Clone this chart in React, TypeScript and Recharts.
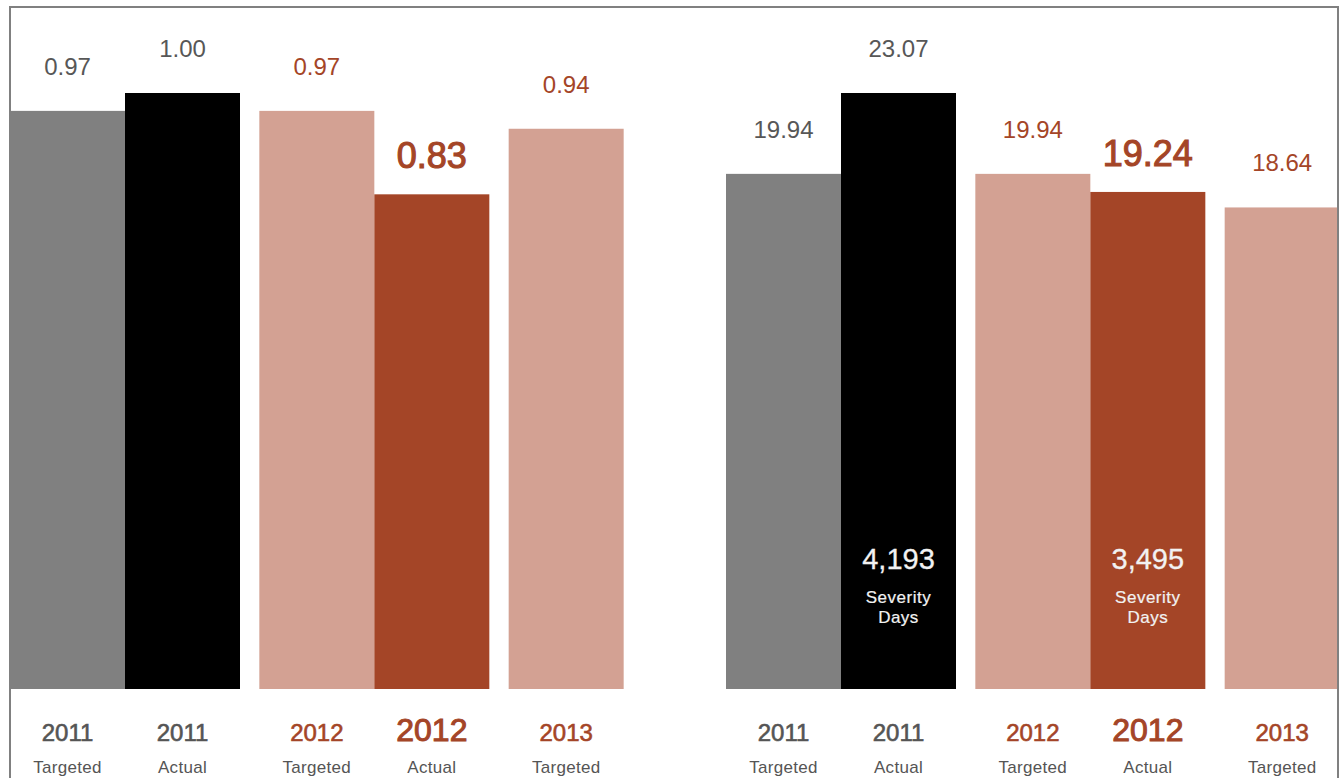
import React from 'react';
import { BarChart, Bar, XAxis, YAxis } from 'recharts';

// categories and series
const years = ['2011', '2012', '2013'];
const seriesNames = { targeted: 'Targeted', actual: 'Actual' };

// left panel (frequency rate)
const rateTargeted = [0.97, 0.97, 0.94];
const rateActual = [1.0, 0.83, null];

// right panel (severity rate)
const severityTargeted = [19.94, 19.94, 18.64];
const severityActual = [23.07, 19.24, null];
const severityDays = [4193, 3495, null];

const targetedColors = ['#808080', '#d3a193', '#d3a193'];
const actualColors = ['#000000', '#a44527', '#a44527'];
const textColors = ['#575757', '#a44527', '#a44527'];

const FONT = '"Liberation Sans", Arial, Helvetica, sans-serif';

const makeData = (t: (number | null)[], a: (number | null)[], d?: (number | null)[]) =>
  years.map((year, i) => ({ year, targeted: t[i], actual: a[i], days: d ? d[i] : null }));

const leftData = makeData(rateTargeted, rateActual);
const rightData = makeData(severityTargeted, severityActual, severityDays);

const barShape = (kind: 'targeted' | 'actual') => (props: any) => {
  const { x, y, width, height, payload } = props;
  const i = years.indexOf(payload.year);
  const value = payload[kind];
  if (value == null || width == null) return <g />;
  const fill = kind === 'actual' ? actualColors[i] : targetedColors[i];
  const big = kind === 'actual' && i === 1;
  const cx = x + width / 2;
  const base = y + height;
  const color = textColors[i];
  const yearColor = i === 0 ? '#555555' : color;
  return (
    <g fontFamily={FONT}>
      <rect x={x} y={y} width={width} height={height} fill={fill} />
      <text
        x={cx}
        y={big ? y - 26 : y - 36}
        textAnchor="middle"
        fontSize={big ? 36 : 24}
        fill={color}
        stroke={big ? color : 'none'}
        strokeWidth={big ? 1.1 : 0}
      >
        {value.toFixed(2)}
      </text>
      <text
        x={cx}
        y={base + 52}
        textAnchor="middle"
        fontSize={big ? 32 : 24}
        fill={yearColor}
        stroke={yearColor}
        strokeWidth={big ? 1.0 : 0.6}
      >
        {payload.year}
      </text>
      <text x={cx} y={base + 84} textAnchor="middle" fontSize={17} fill="#555555" letterSpacing={0.3}>
        {seriesNames[kind]}
      </text>
      {kind === 'actual' && payload.days != null && (
        <g fill="#f2f2f2" textAnchor="middle">
          <text x={cx} y={base - 120} fontSize={29} stroke="#f2f2f2" strokeWidth={0.3}>
            {payload.days.toLocaleString('en-US')}
          </text>
          <text x={cx} y={base - 86} fontSize={17} letterSpacing={0.5} stroke="#f2f2f2" strokeWidth={0.2}>
            Severity
          </text>
          <text x={cx} y={base - 66} fontSize={17} letterSpacing={0.5} stroke="#f2f2f2" strokeWidth={0.2}>
            Days
          </text>
        </g>
      )}
    </g>
  );
};

const Panel = ({ data }: { data: any[] }) => (
  <BarChart
    width={748}
    height={778}
    data={data}
    margin={{ top: 93, right: 0, bottom: 89, left: 0 }}
    barCategoryGap={10}
    barGap={0}
  >
    <XAxis dataKey="year" hide />
    <YAxis hide domain={[0, 'dataMax']} />
    <Bar dataKey="targeted" isAnimationActive={false} shape={barShape('targeted')} />
    <Bar dataKey="actual" isAnimationActive={false} shape={barShape('actual')} />
  </BarChart>
);

export default function App() {
  return (
    <div
      style={{
        position: 'absolute',
        left: 0,
        top: 0,
        width: 1342,
        height: 778,
        overflow: 'hidden',
        background: '#fff',
      }}
    >
      <div style={{ position: 'absolute', left: 0, top: 0 }}>
        <Panel data={leftData} />
      </div>
      <div style={{ position: 'absolute', left: 716, top: 0, width: 621, height: 778, overflow: 'hidden' }}>
        <Panel data={rightData} />
      </div>
      <div
        style={{
          position: 'absolute',
          left: 9,
          top: 6,
          width: 1330,
          height: 900,
          boxSizing: 'border-box',
          border: '2px solid #808080',
          pointerEvents: 'none',
        }}
      />
    </div>
  );
}
